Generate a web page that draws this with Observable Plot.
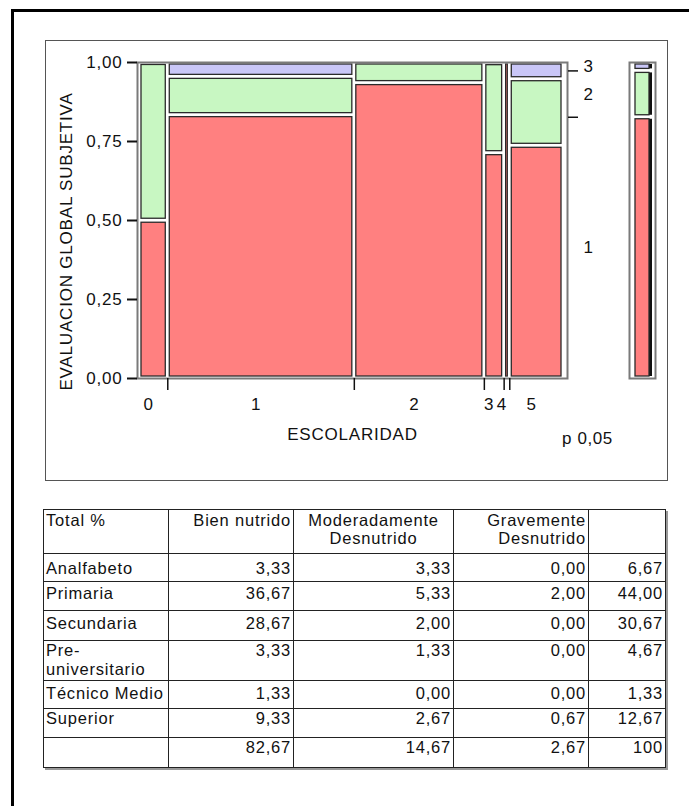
<!DOCTYPE html>
<html>
<head>
<meta charset="utf-8">
<script src="https://cdn.jsdelivr.net/npm/d3@7"></script>
<script src="https://cdn.jsdelivr.net/npm/@observablehq/plot@0.6"></script>
<style>
html,body{margin:0;padding:0;background:#fff;}
body{width:689px;height:806px;overflow:hidden;position:relative;font-family:"Liberation Sans",Arial,sans-serif;color:#111;}
#outer{position:absolute;left:11px;top:9px;width:760px;height:860px;border-left:3px solid #000;border-top:3px solid #000;}
#box{position:absolute;left:45px;top:40px;width:623px;height:441px;border:1.5px solid #555;box-sizing:border-box;}
#main{position:absolute;left:0;top:0;}
#marg{position:absolute;left:620px;top:0;}
#pval{position:absolute;left:562px;top:430px;font-size:17px;letter-spacing:0.6px;line-height:18px;}
#tabla{position:absolute;left:43px;top:509px;border-collapse:collapse;table-layout:fixed;font-size:16.5px;letter-spacing:0.8px;box-shadow:2px 2px 0 #999;}
#tabla td{border:1.5px solid #222;padding:0 2px;vertical-align:top;line-height:18px;white-space:pre-line;overflow:hidden;}
</style>
</head>
<body>
<div id="outer"></div>
<div id="box"></div>
<div id="main"></div>
<div id="marg"></div>
<div id="pval">p 0,05</div>
<table id="tabla"></table>
<script>
// ---- Data ----
const escolaridad = ["Analfabeto", "Primaria", "Secundaria", "Pre-universitario", "Técnico Medio", "Superior"];
const codigos = ["0", "1", "2", "3", "4", "5"];
const nivelesEval = ["1", "2", "3"];
const encabezados = ["Total %", "Bien nutrido", "Moderadamente\nDesnutrido", "Gravemente\nDesnutrido", ""];
const bienNutrido = [3.33, 36.67, 28.67, 3.33, 1.33, 9.33];
const moderadamente = [3.33, 5.33, 2.00, 1.33, 0.00, 2.67];
const gravemente = [0.00, 2.00, 0.00, 0.00, 0.00, 0.67];
const totalFila = [6.67, 44.00, 30.67, 4.67, 1.33, 12.67];
const totalColumna = [82.67, 14.67, 2.67, 100];
const yTicks = [0, 0.25, 0.5, 0.75, 1];
const colores = ["#ff8080", "#c8f7c2", "#c9c6f7"];

const fmt = v => v.toFixed(2).replace(".", ",");

// ---- Mosaic cells ----
let cum = 0;
const cells = [], bounds = [], centers = [];
escolaridad.forEach((e, i) => {
  const x1 = cum, x2 = cum + totalFila[i];
  const vals = [bienNutrido[i], moderadamente[i], gravemente[i]];
  let acc = 0;
  vals.forEach((v, j) => {
    if (v > 0) cells.push({x1, x2, y1: acc / totalFila[i], y2: (acc + v) / totalFila[i], nivel: nivelesEval[j]});
    acc += v;
  });
  centers.push({x: (x1 + x2) / 2, label: codigos[i]});
  if (i > 0) bounds.push(x1);
  cum = x2;
});

const grand = totalColumna[3];
const margCells = [], margBounds = [], margMid = [];
let accM = 0;
totalColumna.slice(0, 3).forEach((v, j) => {
  const y1 = accM / grand, y2 = (accM + v) / grand;
  margCells.push({col: "Total", y1, y2, nivel: nivelesEval[j]});
  margMid.push({y: (y1 + y2) / 2, label: nivelesEval[j]});
  if (j > 0) margBounds.push(y1);
  accM += v;
});

const H = 500;
const baseStyle = {background: "transparent", fontFamily: "'Liberation Sans', Arial, sans-serif", fontSize: "17px", letterSpacing: "0.8px", color: "#111", overflow: "visible"};

const main = Plot.plot({
  width: 689, height: H,
  marginLeft: 137, marginRight: 122, marginTop: 62, marginBottom: 122,
  style: baseStyle,
  x: {domain: [0, cum], range: [139, 563]},
  y: {domain: [0, 1]},
  color: {domain: nivelesEval, range: colores},
  marks: [
    Plot.rect(cells, {x1: "x1", x2: "x2", y1: "y1", y2: "y2", fill: "nivel", stroke: "#2a2a2a", strokeWidth: 1.3, inset: 2}),
    Plot.frame({stroke: "#7a7a7a", strokeWidth: 2}),
    Plot.axisY({ticks: yTicks, tickFormat: fmt, tickSize: 10, tickPadding: 5, anchor: "left", label: null, fontSize: 17, strokeWidth: 2}),
    Plot.axisX({ticks: bounds, tickFormat: () => "", tickSize: 12, anchor: "bottom", label: null, strokeWidth: 1.5}),
    Plot.axisY({ticks: margBounds, tickFormat: () => "", tickSize: 10, anchor: "right", label: null, strokeWidth: 1.5}),
    Plot.text(centers, {x: "x", text: "label", frameAnchor: "bottom", dy: 31, dx: -5, fontSize: 17}),
    Plot.text(margMid, {y: "y", text: "label", frameAnchor: "right", dx: 16, textAnchor: "start", fontSize: 17}),
    Plot.text(["ESCOLARIDAD"], {frameAnchor: "bottom", dy: 61, fontSize: 17}),
    Plot.text(["EVALUACION GLOBAL SUBJETIVA"], {frameAnchor: "left", textAnchor: "middle", rotate: -90, dx: -71, dy: 21, fontSize: 17})
  ]
});
document.getElementById("main").appendChild(main);

const marg = Plot.plot({
  width: 45, height: H,
  marginLeft: 9, marginRight: 10, marginTop: 62, marginBottom: 122,
  style: baseStyle,
  x: {domain: ["Total"], padding: 0, axis: null},
  y: {domain: [0, 1], axis: null},
  color: {domain: nivelesEval, range: colores},
  marks: [
    Plot.barY(margCells, {x: "col", y1: "y1", y2: "y2", fill: "#111", insetLeft: 9, insetRight: 3, insetTop: 2, insetBottom: 2}),
    Plot.barY(margCells, {x: "col", y1: "y1", y2: "y2", fill: "nivel", stroke: "#2a2a2a", strokeWidth: 1.3, insetLeft: 6, insetRight: 6, insetTop: 2, insetBottom: 2}),
    Plot.frame({stroke: "#7a7a7a", strokeWidth: 2})
  ]
});
document.getElementById("marg").appendChild(marg);

// ---- Table ----
const colW = [125, 125, 160, 135, 77];
const rowH = [44, 28, 29, 30, 40, 28, 29, 30];
const rowPad = [1, 5, 2, 3, 0, 3, 0, 0];
const tabla = document.getElementById("tabla");
const cg = document.createElement("colgroup");
colW.forEach(w => { const c = document.createElement("col"); c.style.width = w + "px"; cg.appendChild(c); });
tabla.appendChild(cg);
function addRow(vals, aligns, r) {
  const tr = document.createElement("tr");
  const h = rowH[r];
  tr.style.height = h + "px";
  vals.forEach((v, k) => {
    const td = document.createElement("td");
    td.textContent = v;
    td.style.textAlign = aligns[k];
    td.style.paddingTop = rowPad[r] + "px";
    td.style.height = (h - 2 - rowPad[r]) + "px";
    if (r === 4) td.style.lineHeight = "19px";
    tr.appendChild(td);
  });
  tabla.appendChild(tr);
}
addRow(encabezados, ["left", "right", "center", "right", "right"], 0);
escolaridad.forEach((e, i) => {
  addRow([e.replace("-", "-\n"), fmt(bienNutrido[i]), fmt(moderadamente[i]), fmt(gravemente[i]), fmt(totalFila[i])],
    ["left", "right", "right", "right", "right"], i + 1);
});
addRow(["", fmt(totalColumna[0]), fmt(totalColumna[1]), fmt(totalColumna[2]), String(totalColumna[3])],
  ["left", "right", "right", "right", "right"], 7);
</script>
</body>
</html>
